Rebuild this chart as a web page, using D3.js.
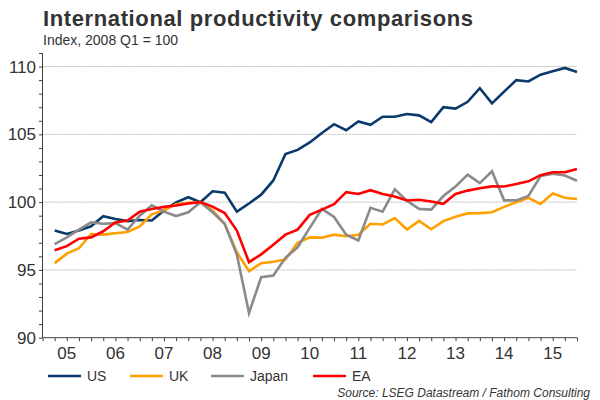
<!DOCTYPE html>
<html>
<head>
<meta charset="utf-8">
<script src="https://cdn.jsdelivr.net/npm/d3@7"></script>
<style>
  html, body { margin: 0; padding: 0; background: #fff; }
  svg { display: block; font-family: "Liberation Sans", Arial, sans-serif; }
</style>
</head>
<body>
<svg id="chart" width="600" height="400"></svg>
<script>
const quarters = [
  "2005 Q1","2005 Q2","2005 Q3","2005 Q4","2006 Q1","2006 Q2","2006 Q3","2006 Q4",
  "2007 Q1","2007 Q2","2007 Q3","2007 Q4","2008 Q1","2008 Q2","2008 Q3","2008 Q4",
  "2009 Q1","2009 Q2","2009 Q3","2009 Q4","2010 Q1","2010 Q2","2010 Q3","2010 Q4",
  "2011 Q1","2011 Q2","2011 Q3","2011 Q4","2012 Q1","2012 Q2","2012 Q3","2012 Q4",
  "2013 Q1","2013 Q2","2013 Q3","2013 Q4","2014 Q1","2014 Q2","2014 Q3","2014 Q4",
  "2015 Q1","2015 Q2","2015 Q3","2015 Q4"
];
const usValues = [97.9, 97.65, 97.9, 98.22, 98.96, 98.76, 98.6, 98.68, 98.65, 99.38, 99.98, 100.36,
  100.0, 100.8, 100.7, 99.3, 99.9, 100.55, 101.6, 103.55, 103.85, 104.4, 105.1, 105.75,
  105.3, 105.95, 105.7, 106.3, 106.3, 106.5, 106.4, 105.9, 107.0, 106.9, 107.4, 108.4,
  107.28, 108.15, 109.0, 108.9, 109.4, 109.65, 109.9, 109.6];
const ukValues = [95.5, 96.2, 96.6, 97.65, 97.6, 97.7, 97.8, 98.2, 99.1, 99.4, 99.85, 99.95,
  100.0, 99.4, 98.37, 96.3, 94.9, 95.5, 95.6, 95.77, 97.0, 97.4, 97.38, 97.6,
  97.48, 97.6, 98.4, 98.35, 98.82, 97.98, 98.62, 98.0, 98.6, 98.92, 99.17, 99.19,
  99.25, 99.65, 99.99, 100.32, 99.87, 100.64, 100.32, 100.23];
const japanValues = [96.9, 97.4, 97.97, 98.5, 98.4, 98.45, 97.97, 99.0, 99.77, 99.3, 98.97, 99.25,
  100.0, 99.25, 98.4, 96.13, 91.82, 94.46, 94.58, 95.89, 96.67, 98.1, 99.5, 98.9,
  97.6, 97.18, 99.58, 99.3, 100.95, 100.1, 99.5, 99.45, 100.45, 101.16, 102.03, 101.4,
  102.27, 100.13, 100.13, 100.45, 101.92, 102.1, 101.96, 101.58];
const eaValues = [96.45, 96.75, 97.3, 97.4, 97.85, 98.5, 98.65, 99.3, 99.5, 99.65, 99.75, 99.9,
  100.0, 99.67, 99.2, 97.9, 95.57, 96.15, 96.85, 97.6, 97.97, 99.06, 99.45, 99.85,
  100.74, 100.6, 100.88, 100.6, 100.42, 100.12, 100.17, 100.05, 99.88, 100.6, 100.85, 101.02,
  101.16, 101.15, 101.34, 101.53, 101.99, 102.2, 102.2, 102.45];
const seriesNames = ["US", "UK", "Japan", "EA"];
const seriesColors = ["#0a3a6b", "#ffa000", "#8a8a8a", "#ff0000"];
const yearLabels = ["05","06","07","08","09","10","11","12","13","14","15"];
const yTickValues = [90, 95, 100, 105, 110];
const titleText = "International productivity comparisons";
const subtitleText = "Index, 2008 Q1 = 100";
const sourceText = "Source: LSEG Datastream / Fathom Consulting";

const allSeries = [usValues, ukValues, japanValues, eaValues];

const svg = d3.select("#chart");
const plotLeft = 42.5, plotRight = 577, plotTop = 53, plotBottom = 337.7;

const x = d3.scaleLinear().domain([0, quarters.length]).range([plotLeft, plotRight]);
const y = d3.scaleLinear().domain([90, 111]).range([plotBottom, plotTop]);

// title
svg.append("text").attr("x", 43).attr("y", 26)
  .attr("font-size", 22).attr("font-weight", "bold").attr("fill", "#333")
  .attr("textLength", 430).attr("lengthAdjust", "spacing")
  .text(titleText);
svg.append("text").attr("x", 43).attr("y", 45)
  .attr("font-size", 14).attr("fill", "#333")
  .text(subtitleText);

// gridlines
svg.append("g").selectAll("line").data(yTickValues.filter(v => v > 90)).join("line")
  .attr("x1", plotLeft).attr("x2", plotRight)
  .attr("y1", d => y(d)).attr("y2", d => y(d))
  .attr("stroke", "#bcbcbc").attr("stroke-width", 1).attr("stroke-dasharray", "2,1");

// y axis
const yMinor = d3.range(90, 112, 1);
const yAxis = svg.append("g").attr("transform", `translate(${plotLeft},0)`)
  .call(d3.axisLeft(y).tickValues(yMinor).tickSize(3.5).tickFormat(""));
yAxis.select(".domain").attr("stroke", "#404040").attr("d", `M0,${plotTop}V${plotBottom}`);
yAxis.selectAll(".tick line").attr("stroke", "#404040");
svg.append("g").selectAll("text").data(yTickValues).join("text")
  .attr("x", 36).attr("y", d => y(d)).attr("dy", "0.36em")
  .attr("text-anchor", "end").attr("font-size", 17).attr("fill", "#333")
  .text(d => d);

// x axis
const xAxis = svg.append("g").attr("transform", `translate(0,${plotBottom})`)
  .call(d3.axisBottom(x).tickValues(d3.range(0, quarters.length + 1)).tickSize(3.5).tickFormat(""));
xAxis.select(".domain").attr("stroke", "#404040").attr("d", `M${plotLeft},0H${plotRight}`);
xAxis.selectAll(".tick line").attr("stroke", "#404040");
svg.append("g").selectAll("text").data(yearLabels).join("text")
  .attr("x", (d, i) => x(i * 4 + 2)).attr("y", 359)
  .attr("text-anchor", "middle").attr("font-size", 17).attr("fill", "#333")
  .text(d => d);

// lines
const line = d3.line().x((d, i) => x(i + 1)).y(d => y(d));
svg.append("g").selectAll("path").data(allSeries).join("path")
  .attr("d", d => line(d))
  .attr("fill", "none")
  .attr("stroke", (d, i) => seriesColors[i])
  .attr("stroke-width", 2.6)
  .attr("stroke-linejoin", "miter");

// legend
const legendX = [48, 130, 211, 313];
const lg = svg.append("g").selectAll("g").data(seriesNames).join("g")
  .attr("transform", (d, i) => `translate(${legendX[i]},376)`);
lg.append("line").attr("x1", 0).attr("x2", 33).attr("y1", 0).attr("y2", 0)
  .attr("stroke", (d, i) => seriesColors[i]).attr("stroke-width", 2.6);
lg.append("text").attr("x", 39).attr("y", 0).attr("dy", "0.36em")
  .attr("font-size", 14).attr("fill", "#333").text(d => d);

// source
svg.append("text").attr("x", 590).attr("y", 397)
  .attr("text-anchor", "end").attr("font-size", 12).attr("font-style", "italic")
  .attr("fill", "#333").text(sourceText);
</script>
</body>
</html>
